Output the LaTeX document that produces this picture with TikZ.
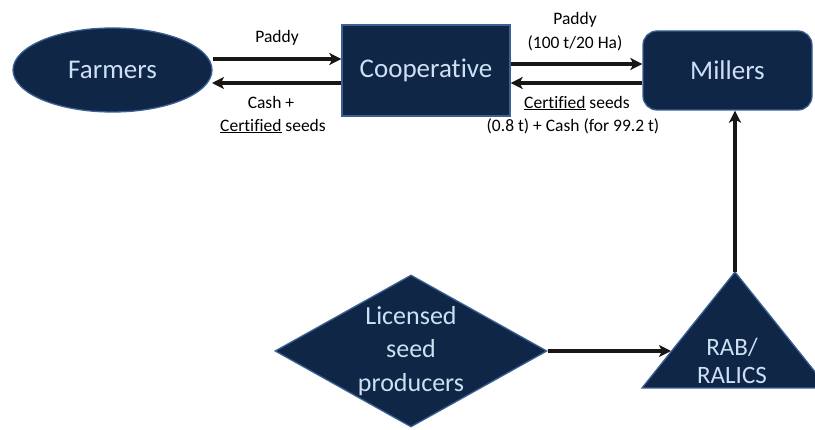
\documentclass[tikz,border=0pt]{standalone}
\usepackage{fontspec}
\setmainfont[Ligatures=NoCommon]{Carlito}
\usetikzlibrary{shapes.geometric,arrows.meta,calc}
\definecolor{navy}{RGB}{16,38,70}
\definecolor{navyedge}{RGB}{58,96,150}
\definecolor{boxtext}{RGB}{205,224,244}
\definecolor{arrowc}{RGB}{26,22,20}
\tikzset{
  shapebox/.style={fill=navy,draw=navyedge,line width=1.3pt},
  bigtext/.style={text=boxtext,font=\fontsize{27}{34}\selectfont,align=center,inner sep=0pt},
  lbl/.style={text=black,font=\fontsize{17.5}{23}\selectfont,align=center,inner sep=0pt},
  flow/.style={draw=arrowc,line width=3.4pt,-{Stealth[length=12pt,width=12pt,inset=3pt]}},
}
\begin{document}
\begin{tikzpicture}[x=1pt,y=-1pt]
\useasboundingbox (0,0) rectangle (815,430);
\clip (0,0) rectangle (815,430);
% nodes
\node[shapebox,ellipse,minimum width=199pt,minimum height=84pt,inner sep=0pt] (farmers) at (112.5,70) {};
\node[bigtext] at (farmers) {Farmers};
\node[shapebox,rectangle,minimum width=168pt,minimum height=91pt,inner sep=0pt] (coop) at (426,70.5) {};
\node[bigtext] at (coop) {Cooperative};
\node[shapebox,rectangle,rounded corners=14pt,minimum width=169pt,minimum height=79pt,inner sep=0pt] (millers) at (727.5,70.5) {};
\node[bigtext] at (millers) {Millers};
\node[shapebox,diamond,minimum width=272pt,minimum height=152pt,inner sep=0pt,aspect=1.79] (lsp) at (411,351) {};
\node[bigtext,font=\fontsize{26}{33.5}\selectfont] at (lsp) {Licensed\\seed\\producers};
\coordinate (triL) at (642,388);
\coordinate (triA) at (735,272);
\coordinate (triR) at (828,388);
\path[shapebox] (triL) -- (triA) -- (triR) -- cycle;
\node[bigtext,font=\fontsize{25}{28}\selectfont] (rab) at (732,361) {RAB/\\RALICS};
\coordinate (triE) at (671,351);
% connectors
\draw[flow] (farmers.east |- 0,59) -- (coop.west |- 0,59);
\draw[flow] (coop.west |- 0,83) -- (212,83);
\draw[flow] (coop.east |- 0,64) -- (millers.west |- 0,64);
\draw[flow] (millers.west |- 0,83) -- (coop.east |- 0,83);
\draw[flow] (lsp.east) -- (triE);
\draw[flow] (triA) -- (triA |- millers.south);
% labels
\node[lbl] at (277,38) {Paddy};
\node[lbl] at (271,102) {Cash +};
\node[lbl] at (273,126) {\underline{Certified} seeds};
\node[lbl] at (575,20) {Paddy};
\node[lbl] at (575,43) {(100 t/20 Ha)};
\node[lbl] at (577,103) {\underline{Certified} seeds};
\node[lbl] at (573,126) {(0.8 t) + Cash (for 99.2 t)};
\end{tikzpicture}
\end{document}
